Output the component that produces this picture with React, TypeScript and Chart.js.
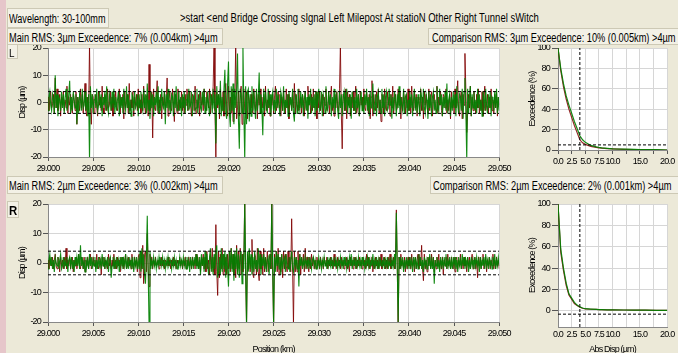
import React, { useEffect, useRef } from "react";
import { Chart, registerables } from "chart.js";
Chart.register(...registerables);

const FONT = '"Liberation Sans",Arial,sans-serif';

// ---------- time-series data (Position km, Disp µm) ----------
const POS_START = 29.0;
const POS_STEP = 0.0001;
const POS_TICKS = [29.0, 29.005, 29.01, 29.015, 29.02, 29.025, 29.03, 29.035, 29.04, 29.045, 29.05];
const DISP_TICKS = [-20, -10, 0, 10, 20];
const THRESHOLD = 4;

const L_MAIN = [
  2,-3,1,4,-2,-1,3,-4,9,-2,5,-3,0,3,-5,2,-1,4,-3,1,-2,6,-4,2,-1,
  3,-2,-4,3,1,-3,4,-8,2,0,-3,5,-2,3,-4,1,7,-3,-5,2,-3,21,-2,-8,3,
  2,-4,1,3,-2,-5,4,-1,2,-3,6,-2,-4,3,1,-3,5,-2,-1,4,-3,2,-5,3,-1,
  4,-2,-3,1,5,-4,2,-1,3,-6,4,-2,0,3,-4,7,-3,1,-2,4,-5,2,-1,3,-3,
  5,-2,1,-4,3,-3,6,-1,-4,2,3,-5,14,-3,-2,4,-13,5,-2,-3,3,8,-4,1,-2,
  3,-6,2,-1,4,-3,2,9,-5,1,4,-2,-3,5,-1,-7,3,2,-4,5,-3,1,-2,4,-3,
  2,-4,3,-1,5,-3,-2,4,-1,-5,3,2,-3,6,-4,1,-2,3,-5,4,-1,2,-3,5,-2,
  -3,4,1,-2,5,-4,3,-1,6,21,-3,-21,4,-2,3,-6,5,-1,-3,4,-5,3,7,-2,-5,
  6,-3,2,-4,5,-7,3,1,21,-6,-2,4,-5,3,6,-8,2,5,-3,-4,4,-6,3,1,-4,
  3,-2,-4,5,1,-3,4,-6,3,-1,5,-4,2,-2,3,-5,6,-3,1,-2,4,-5,2,-1,3,
  -4,2,6,-3,-1,4,-2,3,-5,2,-3,4,-1,-4,5,-2,3,-6,2,1,-3,4,-2,7,-4,
  3,-1,-3,5,-2,2,-4,3,1,-5,4,-2,-3,6,-1,2,-4,3,-3,5,-2,-1,4,-6,3,
  -2,4,-3,1,3,-5,2,-1,5,-3,-2,4,-4,2,6,-3,1,-5,3,-2,4,-1,-3,5,21,
  -4,-17,3,2,-3,5,-6,4,-1,3,-5,2,-2,4,-3,1,6,-4,-2,3,-5,4,-1,2,-3,
  5,-2,-3,4,1,-4,3,-6,2,8,-5,3,-1,-3,4,-2,5,-4,1,-7,3,2,-4,5,-2,
  -3,4,-1,2,-5,3,-2,6,-4,1,3,-3,-2,5,-1,4,-6,2,-3,4,1,-4,3,-2,5,
  -3,2,-4,6,-1,-3,4,-2,3,-5,2,1,-4,5,-3,2,-6,4,-1,3,-2,-4,5,-3,2,
  4,-5,1,3,-2,-3,6,-4,2,-1,4,-3,-5,3,2,-2,5,-4,1,-3,3,-6,4,-2,1,
  -4,5,-2,3,8,-3,-5,2,4,-6,3,-1,18,5,-11,-4,3,-2,6,-5,2,-3,4,-1,-4,
  3,-2,5,-4,1,-3,4,-5,2,6,-3,-1,3,-4,2,-2,5,-3,1,-4,3,-2,4,-5,2,
  -1,
];
const L_COMP = [
  -3,2,4,-1,-3,3,1,-4,10,-2,3,-5,2,1,-3,4,-2,3,-4,2,5,-3,-1,3,8,
  -4,2,-3,4,1,-2,3,-8,2,-4,3,1,-3,5,-2,-1,4,-3,2,-5,3,-21,6,-2,3,
  -4,1,3,-2,5,-3,-1,4,-2,3,-5,2,-1,4,-3,6,-2,-4,3,1,-3,4,-2,5,-4,
  2,-3,1,4,-5,3,-2,2,-4,5,-1,-3,6,-2,3,-4,1,-5,3,2,-3,4,-2,-1,3,
  -5,3,-2,4,-1,-3,5,-2,3,-4,7,-3,1,-6,4,-2,3,-5,2,-1,4,-3,6,-4,2,
  -3,5,-1,-2,4,-8,3,-2,5,-3,1,-4,3,2,-5,4,-2,6,-3,-1,4,-3,2,-5,3,
  -2,4,-4,1,3,-3,5,-2,-1,4,-5,2,3,-3,-2,5,-4,1,3,-2,-3,4,-1,5,-4,
  2,-3,4,-1,-5,3,2,-4,5,-2,3,-15,6,-1,3,-4,8,-5,2,-3,5,12,-4,-6,7,
  15,-4,-9,6,-3,7,-8,5,-2,4,18,-6,-17,5,3,-4,21,-3,-21,6,-8,4,5,-7,3,
  -5,6,-3,4,-2,-6,5,-3,2,11,-4,3,-2,-12,5,-3,4,-1,-4,5,-2,3,-5,2,4,
  -3,1,-4,5,-2,3,-1,-5,4,2,-3,6,-4,1,-2,3,-5,4,-1,2,-3,5,-4,-7,3,
  2,-4,5,-1,-3,4,-2,3,-5,1,4,-3,2,-6,3,-1,5,-4,2,-2,3,-5,4,-3,1,
  5,-3,-2,4,-5,3,1,-4,6,-2,-3,4,-1,3,-5,2,-2,5,-4,1,3,-3,-6,4,-2,
  3,-5,2,4,-3,-1,5,-4,2,-2,3,-6,4,1,-3,2,-4,5,-2,3,-5,1,4,-3,2,
  -4,3,-1,5,-3,2,-5,4,-2,1,7,-4,-2,3,-5,2,4,-3,1,-4,5,-2,3,-5,2,
  4,-3,-2,5,-1,3,-6,2,-3,4,1,-5,3,-2,6,-4,2,-1,-3,5,-4,2,3,-5,1,
  -3,4,-2,3,-5,1,5,-3,2,-4,3,-1,-5,4,2,-3,5,-2,-4,3,1,-6,4,-2,3,
  -5,2,4,-3,1,-4,6,-2,-3,5,-1,3,-5,2,-2,4,-3,7,-4,1,3,-5,2,-3,4,
  -2,3,-5,6,-1,-4,3,2,-3,5,-6,4,9,-3,-21,5,-4,2,6,-5,3,-2,4,-3,1,
  -4,5,-2,3,-3,1,-5,4,2,-3,5,-1,-4,3,-2,4,-5,2,1,-3,4,-2,5,-4,2,
  -3,
];
const R_MAIN = [
  1,-2,2,0,-1,2,-2,1,3,-1,-2,2,1,-3,2,-1,1,-2,2,-1,5,-2,1,-1,2,
  -2,1,2,-3,1,-1,2,-2,0,3,-1,-2,2,1,-2,2,-3,1,-1,2,-2,1,3,-2,-1,
  2,-1,1,-2,3,-1,-2,2,1,-4,2,-1,2,-2,1,0,-2,3,-1,2,-2,1,-1,3,-2,
  1,-2,2,-1,1,-3,2,-1,2,-2,1,3,-2,-1,2,-1,1,-2,3,-1,-2,2,-1,1,-3,
  2,3,-5,4,-2,6,-7,3,4,-3,10,-2,-8,3,-1,2,-2,1,-1,2,-1,0,1,-2,1,
  -1,2,-1,1,-2,1,0,-1,2,-1,1,-2,1,-1,2,-1,1,-2,1,0,-1,2,-1,1,-2,
  1,-1,2,-2,1,-1,2,-1,1,-2,2,-1,1,-2,3,-1,2,-2,1,-3,2,-1,3,-2,2,
  -3,4,-2,1,-4,3,-2,5,-3,2,-4,13,-3,-11,4,-5,3,-2,5,-4,3,-3,2,-4,3,
  -2,4,-3,5,-2,3,-4,2,-5,6,-3,4,-2,5,-4,3,-3,2,21,-4,-21,3,-2,4,-3,
  2,8,-4,-5,3,2,-4,5,-3,-6,4,-2,3,-4,5,-3,2,-2,4,-3,1,3,-2,21,-4,
  -21,3,-2,4,-3,5,-4,2,-3,3,-5,4,-2,3,-1,-3,4,-2,2,-3,15,-2,-21,4,-3,
  2,-3,4,-2,3,-4,2,-1,3,-3,5,-2,2,-1,-3,2,-2,3,-1,2,-2,1,-2,2,-1,
  1,-2,2,-1,1,-2,2,0,-1,2,-2,1,-1,2,-1,1,-2,3,-1,1,-2,2,-1,1,-2,
  2,-1,1,-2,1,-1,2,-2,1,-3,2,-1,1,-2,2,-1,2,-2,1,-1,2,-1,1,-2,2,
  -1,1,-2,3,-1,2,-2,1,-1,2,-3,1,-2,2,-1,1,-2,2,-1,3,-2,1,-1,2,-2,
  1,-2,2,-1,3,-2,1,-1,2,-2,1,18,-1,-21,2,-2,3,-1,1,-2,2,-3,1,-2,2,
  -1,2,-2,3,-1,1,-3,2,-2,1,3,-2,2,-1,6,-2,-6,3,-2,1,-3,2,-1,2,-2,
  3,-1,2,-3,1,-2,2,-1,3,-2,1,-2,2,-4,1,-1,2,-2,3,-1,1,-2,2,-1,-2,
  2,-3,1,2,-2,1,-1,3,-2,1,-2,2,-1,1,-3,2,-1,2,-2,1,3,-2,-1,2,-2,
  1,-5,2,-1,2,-2,1,3,-2,-1,2,-3,1,-1,2,-2,1,-1,3,-2,1,-2,2,-1,1,
  -2,
];
const R_COMP = [
  -2,1,3,-1,2,-2,1,-3,2,0,-1,2,-2,1,3,-2,-1,2,-2,1,-1,2,-3,1,2,
  -1,2,-2,1,-3,2,-1,2,-1,3,-2,6,-1,2,-2,1,-3,2,-1,1,-2,3,-1,2,-2,
  1,-1,2,-3,1,-2,2,-1,1,-2,3,-1,2,-2,1,-1,2,-3,1,2,-5,-1,2,-2,1,
  -2,2,-1,1,-3,2,-1,2,-2,1,-1,3,-2,1,-2,2,-1,1,-2,2,-3,1,-1,2,-2,
  1,-2,4,-3,5,-2,3,-4,-7,2,16,-3,-21,4,-2,1,-1,2,-1,1,-2,1,-1,2,-1,
  1,-1,2,-1,1,-2,1,-1,2,-1,0,1,-2,1,-1,2,-1,1,-2,1,-1,2,-1,1,-1,
  2,-1,1,-2,2,-1,1,-3,2,-1,1,-2,2,-1,3,-2,1,-2,2,-4,3,-1,2,-3,4,
  -2,3,-1,-4,2,5,-3,2,-4,3,-2,4,6,-5,-3,2,-4,5,-3,3,-2,4,-5,3,-2,
  -8,4,-2,5,-3,3,-6,4,-2,5,-4,3,-5,2,4,-7,3,-2,21,-3,-21,4,-3,5,-2,
  3,-4,2,-3,4,-2,1,-3,5,-2,3,-4,2,-1,3,-2,2,-3,1,2,-4,3,-2,21,-3,
  -21,2,-3,4,-1,3,-2,2,-4,3,-2,1,2,-3,3,-1,-2,2,-3,1,4,-2,-3,2,-1,
  2,-2,1,-8,3,-1,2,-2,1,-1,2,-1,1,-2,2,-1,1,-2,1,2,-1,1,-2,1,-1,
  2,-1,1,-2,1,-1,2,-1,1,-2,2,-1,1,-1,2,-2,1,-1,2,-1,1,-2,1,-1,2,
  -1,1,-2,2,-1,1,-2,1,-1,2,-1,3,-2,1,-1,2,-2,1,-1,2,-1,1,-2,2,-1,
  1,-2,1,-1,2,-1,2,-2,1,-1,3,-2,1,-1,2,-2,1,-2,2,-1,1,-1,2,-2,1,
  -1,2,-2,1,-1,2,-2,1,-1,3,-2,17,-1,-20,2,-2,1,-1,2,-3,1,-2,2,-1,1,
  -2,2,-1,1,-3,2,-1,2,-2,1,-2,3,-1,2,-2,1,-3,2,-1,1,-2,2,-1,3,-2,
  1,-2,2,-7,1,-1,2,-2,1,-3,2,-1,1,-2,2,-1,3,-2,1,-1,2,-2,1,-2,2,
  -1,2,-2,1,-3,2,-1,1,-2,3,-1,2,-2,1,-1,2,-3,1,-2,2,-1,1,-2,2,-1,
  2,-1,1,-3,2,-2,1,-1,2,-2,3,-1,1,-2,2,-1,1,-2,2,-1,3,-2,1,-1,2,
  -1,
];

// ---------- exceedance data (Abs Disp µm, %) ----------
const ABS_DISP = [0, 0.5, 1, 1.5, 2, 2.5, 3, 3.5, 4, 4.5, 5, 6, 7, 7.5, 8, 9, 10, 12, 14, 15, 16, 18, 20];
const L_EXC_MAIN = [100, 78, 62, 50, 40, 32, 24, 17, 10, 7, 5.5, 3.5, 2.5, 2, 1.8, 1.4, 1.1, 0.7, 0.5, 0.4, 0.4, 0.2, 0];
const L_EXC_COMP = [100, 80, 65, 53, 44, 36, 28, 21, 14, 10, 7.5, 4.5, 3, 2.5, 2.1, 1.6, 1.2, 0.8, 0.6, 0.5, 0.4, 0.3, 0];
const R_EXC_MAIN = [100, 55, 38, 24, 15, 11, 7, 5, 3.5, 2.5, 2, 1.6, 1.4, 1.3, 1.2, 1.1, 1, 0.9, 0.8, 0.8, 0.7, 0.6, 0.5];
const R_EXC_COMP = [100, 58, 40, 26, 16, 12, 8, 5.5, 3.8, 2.8, 2.1, 1.7, 1.4, 1.3, 1.2, 1.1, 1, 0.9, 0.8, 0.8, 0.7, 0.6, 0.5];
const EXC_X_TICKS = [0, 2.5, 5, 7.5, 10, 12.5, 15, 17.5, 20];
const EXC_X_LABELS = ["0.0", "2.5", "5.0", "7.5", "10.0", "", "15.0", "", "20.0"];
const EXC_Y_TICKS = [0, 20, 40, 60, 80, 100];
const EXC_REF_L = 5;
const EXC_REF_R = -3;

const RED = "rgba(128,0,0,0.85)";
const GREEN = "rgba(0,128,0,0.92)";
const GRID = "#d6d6d6";

const whiteArea = {
  id: "whiteArea",
  beforeDraw(chart: any) {
    const { ctx, chartArea: a } = chart;
    (ctx as any).letterSpacing = "-0.8px";
    ctx.save();
    ctx.fillStyle = "#ffffff";
    ctx.fillRect(a.left, a.top, a.right - a.left, a.bottom - a.top);
    ctx.restore();
  },
};

const tickFont = { family: FONT, size: 9 };

function baseOptions(padTop: number, padRight: number) {
  return {
    animation: false,
    responsive: false,
    devicePixelRatio: 1,
    events: [],
    layout: { padding: { top: padTop, right: padRight, left: 0, bottom: 0 }, autoPadding: false },
    plugins: { legend: { display: false }, tooltip: { enabled: false } },
    elements: { point: { radius: 0 }, line: { tension: 0 } },
  };
}

function timeConfig(main: number[], comp: number[], padTop: number, xH: number, withTitle: boolean) {
  const pts = (arr: number[]) => arr.map((v, i) => ({ x: +(POS_START + i * POS_STEP).toFixed(4), y: v }));
  const xMin = POS_TICKS[0];
  const xMax = POS_TICKS[POS_TICKS.length - 1];
  const dash = (y: number) => ({
    data: [{ x: xMin, y }, { x: xMax, y }],
    borderColor: "#000",
    borderWidth: 1,
    borderDash: [3, 2],
  });
  return {
    type: "line",
    data: {
      datasets: [
        dash(THRESHOLD),
        dash(-THRESHOLD),
        { data: pts(comp), borderColor: GREEN, borderWidth: 1.1, clip: 0 },
        { data: pts(main), borderColor: RED, borderWidth: 1, clip: 0 },
      ],
    },
    options: {
      ...baseOptions(padTop, 13),
      scales: {
        x: {
          type: "linear",
          min: xMin,
          max: xMax,
          afterBuildTicks: (s: any) => { s.ticks = POS_TICKS.map((v) => ({ value: v })); },
          afterFit: (s: any) => { s.height = xH; },
          ticks: { callback: (v: any) => Number(v).toFixed(3), font: tickFont, color: "#000", maxRotation: 0, autoSkip: false, padding: 2 },
          grid: { color: GRID, tickColor: "#555", tickLength: 4 },
          border: { color: "#888" },
          title: { display: withTitle, text: "Position (km)", color: "#000", font: tickFont, padding: { top: 0, bottom: 0 } },
        },
        y: {
          min: DISP_TICKS[0],
          max: DISP_TICKS[DISP_TICKS.length - 1],
          afterBuildTicks: (s: any) => { s.ticks = DISP_TICKS.map((v) => ({ value: v })); },
          afterFit: (s: any) => { s.width = 48; },
          ticks: { font: tickFont, color: "#000", padding: 2 },
          grid: { color: GRID, tickColor: "#555", tickLength: 5 },
          border: { color: "#888" },
          title: { display: true, text: "Disp (µm)", color: "#000", font: tickFont, padding: { top: 17, bottom: 0 } },
        },
      },
    },
    plugins: [whiteArea],
  };
}

function excConfig(main: number[], comp: number[], yMin: number, ref: number, padTop: number, xH: number, withTitle: boolean, tickLen: number) {
  const pts = (arr: number[]) => arr.map((v, i) => ({ x: ABS_DISP[i], y: v }));
  const xMin = EXC_X_TICKS[0];
  const xMax = EXC_X_TICKS[EXC_X_TICKS.length - 1];
  const yMax = EXC_Y_TICKS[EXC_Y_TICKS.length - 1];
  return {
    type: "line",
    data: {
      datasets: [
        { data: [{ x: THRESHOLD, y: yMin }, { x: THRESHOLD, y: yMax }], borderColor: "#000", borderWidth: 1, borderDash: [3, 2] },
        { data: [{ x: xMin, y: ref }, { x: xMax, y: ref }], borderColor: "#000", borderWidth: 1, borderDash: [3, 2] },
        { data: pts(comp), borderColor: GREEN, borderWidth: 1.2 },
        { data: pts(main), borderColor: RED, borderWidth: 1.2 },
      ],
    },
    options: {
      ...baseOptions(padTop, 5),
      scales: {
        x: {
          type: "linear",
          min: xMin,
          max: xMax,
          afterBuildTicks: (s: any) => { s.ticks = EXC_X_TICKS.map((v) => ({ value: v })); },
          afterFit: (s: any) => { s.height = xH; },
          ticks: { callback: (_v: any, i: number) => EXC_X_LABELS[i], font: tickFont, color: "#000", maxRotation: 0, autoSkip: false, padding: 2 },
          grid: { color: GRID, tickColor: "#555", tickLength: tickLen },
          border: { color: "#888" },
          title: { display: withTitle, text: "Abs Disp (µm)", color: "#000", font: tickFont, padding: { top: 0, bottom: 0 } },
        },
        y: {
          min: yMin,
          max: yMax,
          afterBuildTicks: (s: any) => { s.ticks = EXC_Y_TICKS.map((v) => ({ value: v })); },
          afterFit: (s: any) => { s.width = 48; },
          ticks: { font: tickFont, color: "#000", padding: 2 },
          grid: { color: GRID, tickColor: "#555", tickLength: 6 },
          border: { color: "#888" },
          title: { display: true, text: "Exceedence (%)", color: "#000", font: tickFont, padding: { top: 17, bottom: 0 } },
        },
      },
    },
    plugins: [whiteArea],
  };
}

function ChartCanvas(props: { left: number; top: number; width: number; height: number; make: () => any }) {
  const ref = useRef<HTMLCanvasElement | null>(null);
  useEffect(() => {
    const chart = new Chart(ref.current as HTMLCanvasElement, props.make());
    return () => chart.destroy();
  }, []);
  return (
    <canvas
      ref={ref}
      width={props.width}
      height={props.height}
      style={{ position: "absolute", left: props.left, top: props.top, width: props.width, height: props.height }}
    />
  );
}

const boxStyle: React.CSSProperties = {
  position: "absolute",
  background: "#f3f1e6",
  border: "1px solid #cdc9b5",
  boxSizing: "border-box",
  whiteSpace: "nowrap",
  overflow: "hidden",
  color: "#000",
  zIndex: 2,
};

function Narrow(props: { children: React.ReactNode; size?: number; scale?: number; bold?: boolean }) {
  return (
    <span
      style={{
        display: "inline-block",
        fontSize: props.size ?? 12,
        fontWeight: props.bold ? "bold" : "normal",
        transform: `scaleX(${props.scale ?? 0.77})`,
        transformOrigin: "left center",
        whiteSpace: "nowrap",
      }}
    >
      {props.children}
    </span>
  );
}

export default function App() {
  return (
    <div
      style={{
        position: "fixed",
        left: 0,
        top: 0,
        width: 678,
        height: 353,
        background: "#ece9d8",
        overflow: "hidden",
        fontFamily: FONT,
      }}
    >
      <div style={{ position: "absolute", left: 0, top: 0, width: 6, height: 353, background: "#e6c6ca" }} />
      <ChartCanvas left={0} top={40} width={515} height={135} make={() => timeConfig(L_MAIN, L_COMP, 8, 18, false)} />
      <ChartCanvas left={510} top={40} width={168} height={135} make={() => excConfig(L_EXC_MAIN, L_EXC_COMP, 0, EXC_REF_L, 8, 25, false, 4)} />
      <ChartCanvas left={0} top={195} width={515} height={160} make={() => timeConfig(R_MAIN, R_COMP, 9, 33, true)} />
      <ChartCanvas left={510} top={195} width={168} height={160} make={() => excConfig(R_EXC_MAIN, R_EXC_COMP, -15, EXC_REF_R, 9, 28, true, 0)} />

      <div style={{ ...boxStyle, left: 7, top: 8, width: 102, height: 20, lineHeight: "18px", paddingLeft: 1 }}>
        <Narrow scale={0.76}>Wavelength: 30-100mm</Narrow>
      </div>
      <div style={{ position: "absolute", left: 180, top: 8, height: 20, lineHeight: "18px", whiteSpace: "nowrap", zIndex: 2 }}>
        <Narrow scale={0.79}>&gt;start &lt;end Bridge Crossing sIgnal Left Milepost At statioN Other Right Tunnel sWitch</Narrow>
      </div>
      <div style={{ ...boxStyle, left: 7, top: 28, width: 216, height: 17, lineHeight: "15px", paddingLeft: 1 }}>
        <Narrow>Main RMS: 3µm Exceedence: 7% (0.004km) &gt;4µm</Narrow>
      </div>
      <div style={{ ...boxStyle, left: 428, top: 28, width: 262, height: 17, lineHeight: "15px", paddingLeft: 3 }}>
        <Narrow>Comparison RMS: 3µm Exceedence: 10% (0.005km) &gt;4µm</Narrow>
      </div>
      <div style={{ ...boxStyle, left: 7, top: 44, width: 11, height: 15, lineHeight: "13px", paddingLeft: 1 }}>
        <Narrow size={11} scale={0.9}>L</Narrow>
      </div>
      <div style={{ ...boxStyle, left: 7, top: 176, width: 216, height: 18, lineHeight: "16px", paddingLeft: 1 }}>
        <Narrow>Main RMS: 2µm Exceedence: 3% (0.002km) &gt;4µm</Narrow>
      </div>
      <div style={{ ...boxStyle, left: 430, top: 176, width: 262, height: 18, lineHeight: "16px", paddingLeft: 2 }}>
        <Narrow>Comparison RMS: 2µm Exceedence: 2% (0.001km) &gt;4µm</Narrow>
      </div>
      <div style={{ ...boxStyle, left: 7, top: 201, width: 12, height: 17, lineHeight: "15px", paddingLeft: 1 }}>
        <Narrow size={12} scale={0.95} bold>R</Narrow>
      </div>
    </div>
  );
}
